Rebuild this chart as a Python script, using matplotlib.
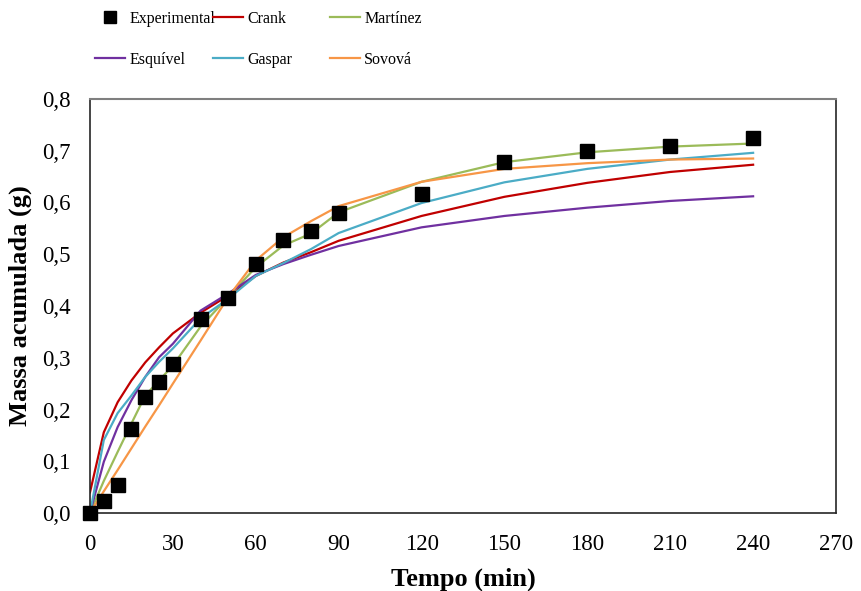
import matplotlib
matplotlib.use("Agg")
import matplotlib.pyplot as plt
from matplotlib.ticker import FuncFormatter
from matplotlib.lines import Line2D

plt.rcParams["font.family"] = ["Liberation Serif", "DejaVu Serif"]

# data
t_exp = [0, 5, 10, 15, 20, 25, 30, 40, 50, 60, 70, 80, 90, 120, 150, 180, 210, 240]
m_exp = [0.0, 0.024, 0.054, 0.162, 0.225, 0.254, 0.287, 0.374, 0.416, 0.482,
         0.528, 0.545, 0.580, 0.617, 0.678, 0.700, 0.709, 0.725]

t_mod = [0, 5, 10, 15, 20, 25, 30, 40, 50, 60, 70, 80, 90, 120, 150, 180, 210, 240]
crank = [0.040, 0.156, 0.214, 0.256, 0.291, 0.320, 0.347, 0.387, 0.420, 0.458,
         0.484, 0.504, 0.526, 0.574, 0.611, 0.638, 0.659, 0.673]
martinez = [0.0, 0.062, 0.118, 0.173, 0.227, 0.256, 0.285, 0.360, 0.417, 0.475,
            0.517, 0.540, 0.581, 0.640, 0.678, 0.697, 0.708, 0.714]
esquivel = [0.0, 0.099, 0.166, 0.218, 0.263, 0.301, 0.327, 0.391, 0.424, 0.460,
            0.481, 0.499, 0.516, 0.552, 0.574, 0.590, 0.603, 0.612]
gaspar = [0.0, 0.141, 0.193, 0.227, 0.263, 0.292, 0.318, 0.376, 0.414, 0.458,
          0.483, 0.510, 0.541, 0.599, 0.639, 0.665, 0.683, 0.696]
sovova = [0.0, 0.042, 0.083, 0.125, 0.167, 0.208, 0.250, 0.333, 0.417, 0.488,
          0.533, 0.564, 0.593, 0.640, 0.665, 0.676, 0.683, 0.685]

colors = {"Crank": "#C00000", "Martínez": "#9BBB59", "Esquível": "#7030A0",
          "Gaspar": "#4BACC6", "Sovová": "#F79646"}
series = {"Crank": crank, "Martínez": martinez, "Esquível": esquivel,
          "Gaspar": gaspar, "Sovová": sovova}

fig = plt.figure(figsize=(8.61, 5.91), dpi=100)
ax = fig.add_axes([90 / 861, 78 / 591, 746 / 861, 414 / 591])

for name, vals in series.items():
    ax.plot(t_mod, vals, color=colors[name], lw=1.6, zorder=2)
ax.plot(t_exp, m_exp, ls="none", marker="s", ms=10, color="black", zorder=3, clip_on=False)

ax.set_xlim(0, 270)
ax.set_ylim(0, 0.8)
ax.set_xticks(range(0, 271, 30))
ax.set_yticks([i / 10 for i in range(9)])
ax.yaxis.set_major_formatter(FuncFormatter(lambda v, p: f"{v:.1f}".replace(".", ",")))
ax.tick_params(length=0, labelsize=16.5)
ax.tick_params(axis="x", pad=15)
ax.tick_params(axis="y", pad=14)
for s in ["left", "bottom", "right"]:
    ax.spines[s].set_color("#262626")
    ax.spines[s].set_linewidth(1.2)
ax.spines["top"].set_color("#7f7f7f")
ax.spines["top"].set_linewidth(1.5)

ax.set_xlabel("Tempo (min)", fontsize=19, fontweight="bold", labelpad=9)
ax.set_ylabel("Massa acumulada (g)", fontsize=19, fontweight="bold", labelpad=7)

# legend: three columns placed by hand
def h(name):
    return Line2D([], [], color=colors[name], lw=1.6)

exp_h = Line2D([], [], ls="none", marker="s", ms=9, color="black")
cols = [([exp_h, h("Esquível")], ["Experimental", "Esquível"], 95),
        ([h("Crank"), h("Gaspar")], ["Crank", "Gaspar"], 213),
        ([h("Martínez"), h("Sovová")], ["Martínez", "Sovová"], 330)]
for handles, labels, x in cols:
    fig.legend(handles, labels, loc="upper left", bbox_to_anchor=(x / 861, 1 - 11 / 591),
               frameon=False, fontsize=11.5, handlelength=1.9, handletextpad=0.25,
               borderpad=0, borderaxespad=0, labelspacing=1.55)

fig.savefig("out.png", dpi=100)
